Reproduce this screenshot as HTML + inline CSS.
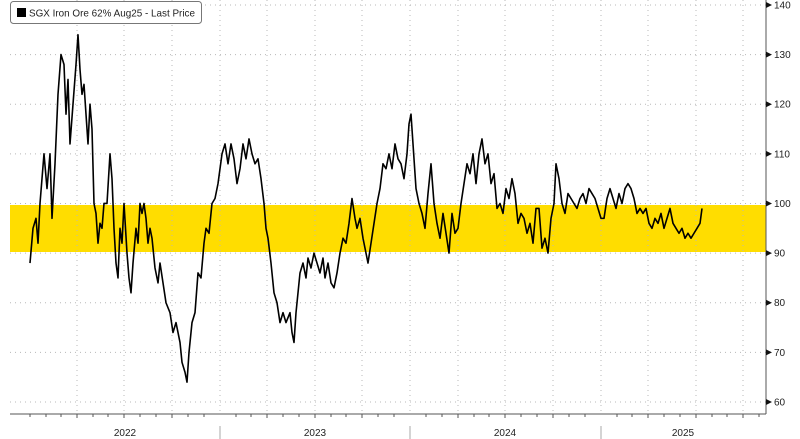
<!DOCTYPE html>
<html><head><meta charset="utf-8"><style>
html,body{margin:0;padding:0;background:#fff;}
svg{display:block;font-family:"Liberation Sans",sans-serif;}
</style></head><body>
<svg width="800" height="439" viewBox="0 0 800 439" xmlns="http://www.w3.org/2000/svg">
<rect width="800" height="439" fill="#fff"/>
<rect x="10" y="205" width="756" height="47" fill="#FFDD00"/>
<g stroke="#b8b8b8" stroke-width="1" stroke-dasharray="1,4">
<line x1="10" x2="766" y1="5" y2="5"/><line x1="10" x2="766" y1="54.6" y2="54.6"/><line x1="10" x2="766" y1="104.2" y2="104.2"/><line x1="10" x2="766" y1="153.9" y2="153.9"/><line x1="10" x2="766" y1="203.5" y2="203.5"/><line x1="10" x2="766" y1="253.1" y2="253.1"/><line x1="10" x2="766" y1="302.7" y2="302.7"/><line x1="10" x2="766" y1="352.4" y2="352.4"/><line x1="10" x2="766" y1="402" y2="402"/>
<line x1="77" x2="77" y1="0" y2="414"/><line x1="124" x2="124" y1="0" y2="414"/><line x1="172" x2="172" y1="0" y2="414"/><line x1="220" x2="220" y1="0" y2="414"/><line x1="267" x2="267" y1="0" y2="414"/><line x1="315" x2="315" y1="0" y2="414"/><line x1="362" x2="362" y1="0" y2="414"/><line x1="410" x2="410" y1="0" y2="414"/><line x1="458" x2="458" y1="0" y2="414"/><line x1="505" x2="505" y1="0" y2="414"/><line x1="553" x2="553" y1="0" y2="414"/><line x1="601" x2="601" y1="0" y2="414"/><line x1="648" x2="648" y1="0" y2="414"/><line x1="696" x2="696" y1="0" y2="414"/><line x1="743" x2="743" y1="0" y2="414"/>
</g>
<g transform="translate(0,699.78) scale(1,-4.963)">
<polyline fill="none" stroke="#000" stroke-width="1.6" vector-effect="non-scaling-stroke" stroke-linejoin="round" points="30,88 33,95 36,97 38,92 40,100 44,110 47,103 50,110 52,97 55,108 58,122 61,130 64,128 66,118 68,125 70,112 73,120 76,128 78,134 80,127 82,122 84,124 86,118 88,112 90,120 92,115 94,100 96,98 98,92 100,96 102,95 104,100 107,100 110,110 112,105 114,95 116,88 118,85 120,95 122,92 124,100 127,90 129,85 131,82 133,88 136,95 138,92 140,100 142,98 144,100 146,97 148,92 150,95 152,93 155,87 158,84 160,88 163,84 166,80 170,78 173,74 176,76 180,72 182,68 185,66 187,64 189,70 192,76 195,78 198,86 201,85 204,92 206,95 209,94 212,100 215,101 218,104 222,110 225,112 228,108 231,112 234,109 237,104 240,107 243,112 246,109 249,113 252,110 255,108 258,109 261,105 264,100 266,95 268,93 271,88 274,82 277,80 280,76 283,78 286,76 290,78 292,74 294,72 296,78 298,82 300,86 303,88 306,85 308,89 311,87 314,90 317,88 320,86 323,89 325,85 328,88 331,84 334,83 337,86 340,90 343,93 346,92 349,96 352,101 355,97 357,95 360,97 363,93 366,90 368,88 371,92 374,96 377,100 380,103 383,108 386,107 389,110 392,107 395,112 398,109 401,108 404,105 407,110 409,116 411,118 413,112 416,103 419,100 422,98 425,95 428,102 431,108 434,100 437,96 440,93 443,98 446,94 449,90 452,98 455,94 458,95 461,100 464,104 467,108 470,106 473,110 476,104 479,110 482,113 485,108 488,110 491,104 494,106 497,99 500,100 503,98 506,103 509,101 512,105 515,102 518,96 521,98 524,97 527,94 530,96 533,92 536,99 539,99 542,91 545,93 548,90 551,97 554,100 556,108 559,105 562,100 565,98 568,102 571,101 574,100 577,99 580,101 583,102 586,100 589,103 592,102 595,101 598,99 601,97 604,97 607,101 610,103 613,101 616,99 619,102 622,100 625,103 628,104 631,103 634,101 637,98 640,99 643,98 646,99 649,96 652,95 655,97 658,96 661,98 664,95 667,97 670,99 673,96 676,95 679,94 682,95 685,93 688,94 691,93 694,94 697,95 700,96 702,99"/>
</g>
<line x1="10" x2="766" y1="414" y2="414" stroke="#555" stroke-width="1"/>
<line x1="766" x2="766" y1="0" y2="414" stroke="#555" stroke-width="1"/>
<g stroke="#555" stroke-width="1">
<line x1="30" x2="30" y1="414" y2="417"/><line x1="46" x2="46" y1="414" y2="417"/><line x1="61" x2="61" y1="414" y2="417"/><line x1="93" x2="93" y1="414" y2="417"/><line x1="108" x2="108" y1="414" y2="417"/><line x1="140" x2="140" y1="414" y2="417"/><line x1="156" x2="156" y1="414" y2="417"/><line x1="188" x2="188" y1="414" y2="417"/><line x1="204" x2="204" y1="414" y2="417"/><line x1="236" x2="236" y1="414" y2="417"/><line x1="251" x2="251" y1="414" y2="417"/><line x1="283" x2="283" y1="414" y2="417"/><line x1="299" x2="299" y1="414" y2="417"/><line x1="331" x2="331" y1="414" y2="417"/><line x1="346" x2="346" y1="414" y2="417"/><line x1="378" x2="378" y1="414" y2="417"/><line x1="394" x2="394" y1="414" y2="417"/><line x1="426" x2="426" y1="414" y2="417"/><line x1="442" x2="442" y1="414" y2="417"/><line x1="474" x2="474" y1="414" y2="417"/><line x1="489" x2="489" y1="414" y2="417"/><line x1="521" x2="521" y1="414" y2="417"/><line x1="537" x2="537" y1="414" y2="417"/><line x1="569" x2="569" y1="414" y2="417"/><line x1="585" x2="585" y1="414" y2="417"/><line x1="617" x2="617" y1="414" y2="417"/><line x1="632" x2="632" y1="414" y2="417"/><line x1="664" x2="664" y1="414" y2="417"/><line x1="680" x2="680" y1="414" y2="417"/><line x1="712" x2="712" y1="414" y2="417"/><line x1="727" x2="727" y1="414" y2="417"/><line x1="759" x2="759" y1="414" y2="417"/>
<line x1="77" x2="77" y1="414" y2="418"/><line x1="124" x2="124" y1="414" y2="418"/><line x1="172" x2="172" y1="414" y2="418"/><line x1="267" x2="267" y1="414" y2="418"/><line x1="315" x2="315" y1="414" y2="418"/><line x1="362" x2="362" y1="414" y2="418"/><line x1="458" x2="458" y1="414" y2="418"/><line x1="505" x2="505" y1="414" y2="418"/><line x1="553" x2="553" y1="414" y2="418"/><line x1="648" x2="648" y1="414" y2="418"/><line x1="696" x2="696" y1="414" y2="418"/><line x1="743" x2="743" y1="414" y2="418"/>
</g>
<g stroke="#aaa" stroke-width="1"><line x1="220" x2="220" y1="426" y2="439"/><line x1="410" x2="410" y1="426" y2="439"/><line x1="601" x2="601" y1="426" y2="439"/></g>
<g font-size="10" fill="#222" text-anchor="middle"><text x="125" y="436">2022</text><text x="315" y="436">2023</text><text x="505" y="436">2024</text><text x="683" y="436">2025</text></g>
<g fill="#111"><path d="M766,2 l6,3 l-6,3z"/><path d="M766,51.6 l6,3 l-6,3z"/><path d="M766,101.2 l6,3 l-6,3z"/><path d="M766,150.9 l6,3 l-6,3z"/><path d="M766,200.5 l6,3 l-6,3z"/><path d="M766,250.1 l6,3 l-6,3z"/><path d="M766,299.7 l6,3 l-6,3z"/><path d="M766,349.4 l6,3 l-6,3z"/><path d="M766,399 l6,3 l-6,3z"/></g>
<g font-size="10" fill="#222"><text x="774" y="8.5">140</text><text x="774" y="58">130</text><text x="774" y="107.7">120</text><text x="774" y="157.4">110</text><text x="774" y="207">100</text><text x="774" y="256.6">90</text><text x="774" y="306.2">80</text><text x="774" y="355.9">70</text><text x="774" y="405.5">60</text></g>
<rect x="10.5" y="1.5" width="191" height="22" rx="3" fill="#fff" stroke="#777"/>
<rect x="17" y="8" width="9" height="9" fill="#000"/>
<text x="29" y="16.5" font-size="10.5" fill="#222" textLength="166" lengthAdjust="spacingAndGlyphs">SGX Iron Ore 62% Aug25 - Last Price</text>
</svg>
</body></html>
